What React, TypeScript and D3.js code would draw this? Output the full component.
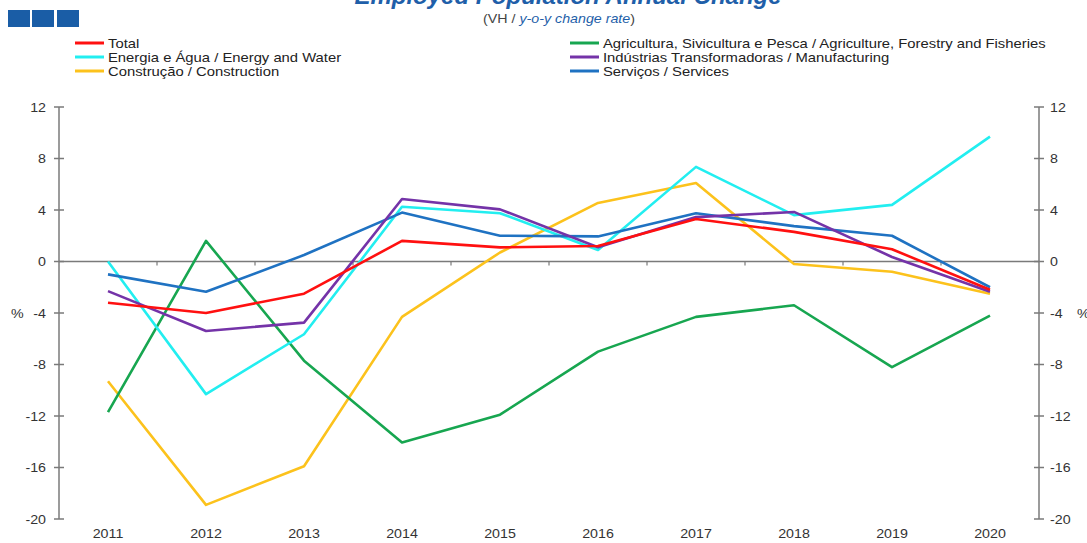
import React from "react";
import * as d3 from "d3";

const years = ["2011","2012","2013","2014","2015","2016","2017","2018","2019","2020"];
const total = [-3.2, -4.0, -2.5, 1.6, 1.1, 1.2, 3.3, 2.3, 0.95, -2.2];
const agriculture = [-11.7, 1.6, -7.7, -14.05, -11.9, -7.0, -4.3, -3.4, -8.2, -4.2];
const energy = [0.0, -10.3, -5.65, 4.25, 3.75, 0.9, 7.35, 3.6, 4.4, 9.7];
const manufacturing = [-2.3, -5.4, -4.75, 4.85, 4.05, 1.1, 3.45, 3.85, 0.35, -2.35];
const construction = [-9.3, -18.9, -15.9, -4.3, 0.7, 4.55, 6.1, -0.2, -0.8, -2.5];
const services = [-1.0, -2.35, 0.5, 3.8, 2.0, 1.95, 3.75, 2.75, 2.0, -2.0];
const yTicks = [12, 8, 4, 0, -4, -8, -12, -16, -20];

const series = [
  { name: "Total", values: total, color: "#ff1010" },
  { name: "Agricultura, Sivicultura e Pesca / Agriculture, Forestry and Fisheries", values: agriculture, color: "#17a650" },
  { name: "Energia e Água / Energy and Water", values: energy, color: "#22eef0" },
  { name: "Indústrias Transformadoras  / Manufacturing", values: manufacturing, color: "#7433a8" },
  { name: "Construção / Construction", values: construction, color: "#fcc21c" },
  { name: "Serviços / Services", values: services, color: "#1f72c2" },
];

const SX = 1.14;

function T(props: { x: number; y: number; anchor?: string; size?: number; fill?: string; children: React.ReactNode; sx?: number; style?: string; weight?: string }) {
  const { x, y, anchor = "start", size = 12.5, fill = "#333", children, sx = SX, style, weight } = props;
  return (
    <text transform={`translate(${x},${y}) scale(${sx},1)`} textAnchor={anchor} fontSize={size} fill={fill} fontStyle={style} fontWeight={weight}>
      {children}
    </text>
  );
}

export default function App() {
  const W = 1087, H = 543;
  const left = 59, right = 1039;
  const x = d3.scaleBand<string>().domain(years).range([left, right]);
  const y = d3.scaleLinear().domain([-20, 12]).range([519, 107]);
  const line = d3.line<number>()
    .x((_, i) => (x(years[i]) as number) + x.bandwidth() / 2)
    .y((d) => y(d));
  const axisColor = "#7a7a7a";
  const font = "'Liberation Sans', Arial, sans-serif";
  const legendLeft = [series[0], series[2], series[4]];
  const legendRight = [series[1], series[3], series[5]];
  const legendRows = [43, 57, 71];

  return (
    <svg width={W} height={H} style={{ position: "absolute", left: 0, top: 0, background: "#fff" }} fontFamily={font}>
      <rect x={0} y={0} width={W} height={H} fill="#fff" />
      {/* blue squares */}
      {[8, 32, 57].map((sx, i) => (
        <rect key={i} x={sx} y={10} width={22} height={17} fill="#1a5da6" />
      ))}
      {/* title (cut at top) */}
      <text x={568} y={4} textAnchor="middle" fontSize={24} fontWeight="bold" fontStyle="italic" fill="#1f5fa9">
        Employed Population Annual Change
      </text>
      <T x={559} y={23} anchor="middle" size={12.5} fill="#444">
        (VH / <tspan fontStyle="italic" fill="#1f5fa9">y-o-y change rate</tspan>)
      </T>
      {/* legend */}
      {legendLeft.map((s, i) => (
        <g key={s.name}>
          <line x1={75} x2={104} y1={legendRows[i]} y2={legendRows[i]} stroke={s.color} strokeWidth={3} />
          <T x={108} y={legendRows[i] + 4.5} size={13} fill="#222">{s.name}</T>
        </g>
      ))}
      {legendRight.map((s, i) => (
        <g key={s.name}>
          <line x1={570} x2={599} y1={legendRows[i]} y2={legendRows[i]} stroke={s.color} strokeWidth={3} />
          <T x={603} y={legendRows[i] + 4.5} size={13} fill="#222">{s.name}</T>
        </g>
      ))}
      {/* axes */}
      <line x1={left} x2={left} y1={y(12)} y2={y(-20)} stroke={axisColor} strokeWidth={1.5} />
      <line x1={right} x2={right} y1={y(12)} y2={y(-20)} stroke={axisColor} strokeWidth={1.5} />
      {yTicks.map((t) => (
        <g key={t}>
          <line x1={left - 5} x2={left + 5} y1={y(t)} y2={y(t)} stroke={axisColor} strokeWidth={1.5} />
          <line x1={right - 5} x2={right + 5} y1={y(t)} y2={y(t)} stroke={axisColor} strokeWidth={1.5} />
          <T x={46} y={y(t) + 4.5} anchor="end">{t}</T>
          <T x={1050} y={y(t) + 4.5}>{t}</T>
        </g>
      ))}
      <T x={11} y={y(-4) + 4.5}>%</T>
      <T x={1077} y={y(-4) + 4.5}>%</T>
      {/* zero line with category ticks */}
      <line x1={left} x2={right} y1={y(0)} y2={y(0)} stroke={axisColor} strokeWidth={1.5} />
      {years.slice(1).map((yr) => (
        <line key={yr} x1={x(yr) as number} x2={x(yr) as number} y1={y(0)} y2={y(0) + 4} stroke={axisColor} strokeWidth={1.2} />
      ))}
      {/* x labels */}
      {years.map((yr) => (
        <T key={yr} x={(x(yr) as number) + x.bandwidth() / 2} y={538} anchor="middle">{yr}</T>
      ))}
      {/* lines */}
      {[series[4], series[1], series[2], series[5], series[3], series[0]].map((s) => (
        <path key={s.name} d={line(s.values) as string} fill="none" stroke={s.color} strokeWidth={2.6} strokeLinejoin="round" />
      ))}
    </svg>
  );
}
